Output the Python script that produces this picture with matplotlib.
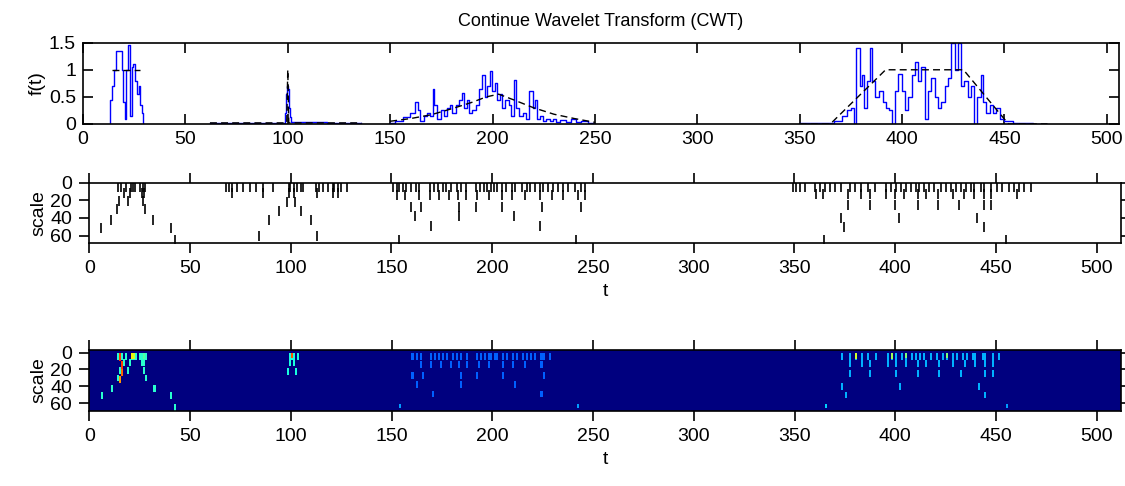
import numpy as np
import matplotlib
matplotlib.use('Agg')
import matplotlib.pyplot as plt

plt.rcParams['font.family'] = ['Liberation Sans', 'DejaVu Sans']

# ---- top panel: noisy signal (blue) and underlying signal (black) ----
sig1_t = [13, 13.7, 14.5, 15.6, 16.8, 18.4, 19.3, 20.0, 20.7, 21.3, 22.6, 23.3, 24.1,
          25.1, 25.9, 26.7, 27.5, 28.3, 29.1, 29.6]
sig1_f = [0.0, 0.45, 0.7, 1.0, 1.35, 1.35, 1.0, 0.4, 0.1, 1.0, 1.45, 0.15, 1.05,
          1.1, 0.8, 0.55, 0.7, 0.35, 0.2, 0.0]
sig2_t = [62, 98.5, 99.0, 99.5, 100.0, 100.5, 101.0, 101.5, 102.0, 136]
sig2_f = [0.02, 0.02, 0.2, 0.55, 0.7, 0.65, 0.3, 0.12, 0.03, 0.02]
sig3_t = [150, 155, 158, 161.5, 162.8, 164, 165.6, 167.2, 168.9, 170.5, 171.3, 172, 173.8,
          175.4, 177, 178.7, 179.8, 181.1, 182.8, 184.4, 185.7, 186.9, 188, 189.3, 191,
          192.6, 194.3, 195.6, 196.7, 197.9, 199.2, 200.5, 201.6, 202.8, 204.1, 205.4,
          207, 208.7, 209.8, 211, 212.3, 213.9, 215.6, 217.2, 218.9, 220.2, 221.3, 222.5,
          223.8, 225.4, 227, 228.7, 230.3, 232, 234.4, 236.9, 239.3, 241.8, 245.1, 248.4, 250]
sig3_f = [0.02, 0.05, 0.12, 0.2, 0.4, 0.25, 0.05, 0.15, 0.2, 0.15, 0.65, 0.35, 0.1,
          0.25, 0.15, 0.3, 0.35, 0.2, 0.35, 0.45, 0.57, 0.3, 0.45, 0.2, 0.25,
          0.35, 0.65, 0.9, 0.5, 0.7, 0.97, 0.6, 0.75, 0.45, 0.55, 0.3,
          0.45, 0.35, 0.15, 0.82, 0.3, 0.15, 0.2, 0.1, 0.6, 0.3, 0.45, 0.1,
          0.15, 0.05, 0.1, 0.05, 0.1, 0.03, 0.08, 0.03, 0.1, 0.03, 0.05, 0.02, 0.0]
sig4_t = [350, 365, 369, 372, 374, 376.5, 377, 378.5, 380, 381, 382, 384, 385, 386, 388, 390,
          391, 393, 394.6, 395.7, 397, 399, 400.6, 402, 404, 405.5, 407, 408.5, 410,
          412, 413, 415, 417, 418, 420, 422, 423, 425, 426.6, 428, 429.5, 431, 433,
          434.4, 436, 437.7, 439, 440.5, 442, 443.8, 445, 447, 448.7, 451, 457, 471]
sig4_f = [0.01, 0.02, 0.05, 0.15, 0.25, 0.3, 0.0, 1.4, 0.7, 0.9, 0.3, 0.8, 1.4, 0.8, 0.5, 0.6,
          0.4, 0.3, 0.25, 0.0, 0.6, 0.92, 0.6, 0.25, 0.5, 0.9, 1.15, 0.8, 1.05,
          0.1, 0.6, 0.85, 0.5, 0.3, 0.4, 0.7, 0.85, 1.5, 1.0, 1.5, 0.7, 0.8, 0.5,
          0.7, 0.0, 0.5, 0.9, 0.4, 0.2, 0.35, 0.2, 0.3, 0.1, 0.05, 0.02, 0.0]

true1_t = [14, 28]
true1_f = [1.0, 1.0]
true2_t = [62, 99.5, 100, 100.5, 136]
true2_f = [0.02, 0.02, 1.0, 0.02, 0.02]
true3_t = [150, 160, 170, 180, 190, 197, 203, 210, 220, 230, 240, 250]
true3_f = [0.05, 0.1, 0.17, 0.28, 0.4, 0.5, 0.55, 0.45, 0.3, 0.18, 0.1, 0.03]
true4_t = [350, 365, 392, 430, 452, 471]
true4_f = [0.0, 0.0, 1.0, 1.0, 0.0, 0.0]

# ---- middle panel: local maxima (t, scale) ----
max_t_a = [14.4, 15.5, 18.2, 20.6, 21.8, 22.6, 25.4, 26.4, 27.7,
           17.4, 20.3, 26.0, 27.3, 14.7, 19.3, 26.8, 13.5, 27.5, 10.8, 31.7, 5.6, 40.3, 42.4]
max_s_a = [5, 5, 5, 5, 5, 5, 5, 5, 5,
           12, 12, 12, 12, 21, 21, 21, 30, 30, 42, 42, 51, 51, 65]
max_t_b = [68.0, 69.3, 70.8, 73.3, 76.3, 79.6, 82.5, 86.2, 91.1, 99.0, 99.7, 101.4, 103.2,
           105.2, 106.3, 112.6, 114.2, 116.2, 118.4, 120.8, 121.7, 123.3, 125.0, 128.0,
           71.0, 86.2, 99.0, 101.4, 113.0, 120.8, 123.3,
           98.1, 102.0, 94.1, 105.2, 89.1, 110.1, 84.2, 112.9]
max_s_b = [5] * 24 + [12] * 7 + [22, 22, 32, 32, 42, 42, 60, 60]
max_t_c = [150.8, 152.5, 153.8, 155.7, 157.4, 159.8, 162.3, 163.9, 168.9, 171.3, 173.0,
           175.4, 177.0, 179.5, 182.3, 184.4, 186.9, 191.8, 193.8, 195.9, 197.5, 199.2,
           200.8, 202.5, 204.9, 206.6, 209.8, 211.5, 214.8, 217.2, 218.9, 221.3, 223.8,
           225.4, 227.9, 230.3, 232.8, 235.2, 237.7, 241.0, 244.3, 246.2,
           152.5, 156.6, 163.9, 168.9, 173.8, 178.7, 182.8, 186.9, 192.6, 198.4, 204.9,
           209.8, 216.4, 223.8, 229.5, 235.2, 242.6, 246.2,
           159.8, 164.8, 183.6, 191.8, 204.9, 224.6, 244.3,
           161.5, 183.6, 211.0, 169.7, 223.8, 153.8, 241.5]
max_s_c = [5] * 42 + [14] * 18 + [27] * 7 + [38, 38, 38, 49, 49, 65, 65]
max_t_d = [349.3, 351.0, 352.6, 355.1, 360.1, 362.5, 365.0, 367.5, 370.0, 373.3, 377.4,
           379.9, 383.2, 386.5, 389.8, 395.5, 398.0, 400.5, 403.0, 405.4, 407.9, 410.4,
           412.0, 414.5, 417.0, 419.5, 422.8, 425.2, 427.7, 430.2, 432.7, 435.1, 437.6,
           439.3, 442.6, 444.2, 447.5, 450.8, 453.3, 456.6, 459.1, 461.6, 464.0, 467.3,
           360.9, 364.2, 376.6, 383.2, 387.3, 395.5, 399.7, 404.6, 411.2, 415.3, 421.1,
           428.5, 434.3, 439.3, 444.2, 447.5, 460.7,
           376.6, 387.3, 399.7, 411.2, 421.1, 431.8, 444.2, 447.5,
           372.9, 402.1, 440.6, 374.6, 444.2, 364.7, 455.0]
max_s_d = [5] * 44 + [13] * 17 + [25] * 8 + [40, 40, 40, 50, 50, 65, 65]

# ---- bottom panel: where each group shows up in the coefficients, and how bright ----
group_level = [0.4, 0.38, 0.22, 0.3]
group_t0 = [0, 95, 158, 371]
group_t1 = [50, 105, 228, 451]
dim_t = [153.8, 241.5, 364.7, 455.0]
dim_s = [65, 65, 65, 65]
dim_v = [0.28, 0.28, 0.33, 0.28]
hot_t = [15, 16, 16, 15, 21, 22, 27, 100, 380, 398, 405, 425]
hot_s0 = [0, 10, 20, 28, 0, 0, 0, 0, 0, 0, 0, 0]
hot_s1 = [10, 20, 28, 36, 8, 8, 8, 6, 8, 8, 6, 6]
hot_v = [0.85, 0.85, 0.8, 0.75, 0.65, 0.6, 0.45, 0.82, 0.6, 0.55, 0.5, 0.5]

fig = plt.figure(figsize=(11.25, 4.86), dpi=100)

ax1 = fig.add_axes([0.0738, 0.7449, 0.9209, 0.1673])
for tt, ff in [(sig1_t, sig1_f), (sig2_t, sig2_f), (sig3_t, sig3_f), (sig4_t, sig4_f)]:
    ax1.plot(tt, ff, color='b', lw=1, drawstyle='steps-mid')
for tt, ff in [(true1_t, true1_f), (true2_t, true2_f), (true3_t, true3_f), (true4_t, true4_f)]:
    ax1.plot(tt, ff, color='k', lw=1, dashes=(5, 3))
ax1.set_xlim(0, 506)
ax1.set_ylim(0, 1.5)
ax1.set_yticks([0, 0.5, 1, 1.5])
ax1.set_yticklabels(['0', '0.5', '1', '1.5'])
ax1.set_xticks(np.arange(0, 501, 50))
ax1.tick_params(direction='in', length=7.5, width=1.2, top=True, right=True,
                labelsize=14, pad=5)
ax1.set_ylabel('f(t)', fontsize=14, labelpad=2)
ax1.set_title('Continue Wavelet Transform (CWT)', fontsize=13, pad=12)

ax2 = fig.add_axes([0.0794, 0.5006, 0.9168, 0.1235])
for tt, ss in [(max_t_a, max_s_a), (max_t_b, max_s_b), (max_t_c, max_s_c), (max_t_d, max_s_d)]:
    ax2.plot(tt, ss, linestyle='none', marker='|', ms=6.5, mew=1.2, color='k')
ax2.set_xlim(0, 512)
ax2.set_ylim(68, 0)
ax2.set_yticks([0, 20, 40, 60])
ax2.set_xticks(np.arange(0, 501, 50))
ax2.tick_params(direction='out', length=7.5, width=1.2, top=True, right=True,
                labelsize=14, pad=5)
ax2.set_xlabel('t', fontsize=14, labelpad=4)
ax2.set_ylabel('scale', fontsize=14, labelpad=2)

coef = np.zeros((72, 512))
for lev, t0, t1, tt, ss in zip(group_level, group_t0, group_t1,
                               [max_t_a, max_t_b, max_t_c, max_t_d],
                               [max_s_a, max_s_b, max_s_c, max_s_d]):
    for t, s in zip(tt, ss):
        if not (t0 <= t <= t1):
            continue
        c = int(round(t))
        r0, r1 = max(int(s) - 4 + 3, 3), int(s) + 4 + 3
        coef[r0:r1, c] = np.maximum(coef[r0:r1, c], lev)
for t, s, v in zip(dim_t, dim_s, dim_v):
    c = int(round(t))
    coef[s - 1:s + 4, c] = v
for t, s0, s1, v in zip(hot_t, hot_s0, hot_s1, hot_v):
    coef[s0 + 3:s1 + 3, t] = v

ax3 = fig.add_axes([0.0794, 0.1549, 0.917, 0.1249])
ax3.imshow(coef, cmap='jet', vmin=0, vmax=1, aspect='auto', interpolation='nearest',
           extent=(0, 512, 69, -3))
ax3.set_xlim(0, 512)
ax3.set_ylim(69, -3)
ax3.set_yticks([0, 20, 40, 60])
ax3.set_xticks(np.arange(0, 501, 50))
ax3.tick_params(direction='out', length=7.5, width=1.2, top=True, right=True,
                labelsize=14, pad=5)
ax3.set_xlabel('t', fontsize=14, labelpad=4)
ax3.set_ylabel('scale', fontsize=14, labelpad=2)

for ax in (ax1, ax2, ax3):
    for sp in ax.spines.values():
        sp.set_linewidth(1.2)

fig.savefig('out.png', dpi=100)
plt.close(fig)
